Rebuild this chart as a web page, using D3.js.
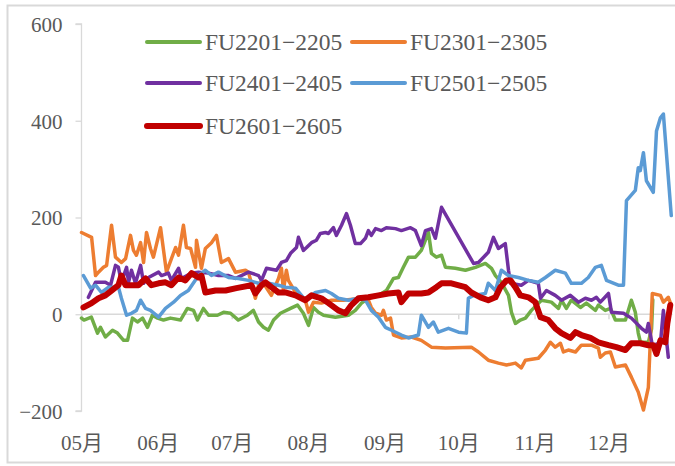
<!DOCTYPE html>
<html lang="zh">
<head>
<meta charset="UTF-8">
<title>FU spreads</title>
<script src="https://d3js.org/d3.v7.min.js"></script>
<style>
    body { margin: 0; background: #fff; }
    svg { display: block; }
    .axis text { font-family: "Liberation Serif", "Noto Sans CJK SC", serif; fill: #595959; }
</style>
</head>
<body>
<svg id="chart"></svg>
<script>
    // x = days since 05-01, y = spread
    const monthStarts = [0, 31, 61, 92, 123, 153, 184, 214];
    const monthLabels = ["05月", "06月", "07月", "08月", "09月", "10月", "11月", "12月"];
    const yTicks = [-200, 0, 200, 400, 600];

    const seriesNames = ["FU2201−2205", "FU2301−2305", "FU2401−2405", "FU2501−2505", "FU2601−2605"];
    const seriesColors = ["#70ad47", "#ed7d31", "#7030a0", "#5b9bd5", "#c00000"];

    const fu2201 = [[0,-8],[1,-12],[4,-6],[6.5,-39],[7.7,-27],[9.7,-47],[12.6,-33],[14.6,-39],[17.1,-54],[18.7,-54],
        [20.7,-8],[22.7,-16],[24.8,-8],[26.8,-27],[28.8,-2],[30.9,-8],[33.3,-12],[36.1,-8],[40.2,-12],[43,12],
        [45.5,8],[47.1,-12],[49.5,12],[51.6,-2],[55.2,-2],[57.7,4],[60.5,2],[63.7,-12],[67.4,-2],[69.8,8],
        [71.9,-16],[73.9,-27],[75.9,-33],[78,-12],[80.8,2],[84.9,12],[87.7,19],[90.1,2],[92.2,-23],[94.2,14],
        [96.2,4],[98.3,-2],[103.1,-6],[108.4,-2],[111.2,8],[113.7,23],[116.5,33],[120.6,39],[123.8,49],[126.7,74],
        [128.7,76],[130.7,97],[132.8,118],[135.6,118],[138,132],[140.9,169],[142.1,126],[144.1,118],[146.2,122],[147.8,97],
        [151.8,95],[155.9,91],[160,97],[164,105],[166.5,95],[168.1,80],[170.5,66],[173.4,39],[174.6,4],[176.2,-19],
        [178.2,-12],[180.3,-8],[182.7,8],[186.8,29],[190.8,25],[193.7,12],[194.9,29],[196.9,12],[198.9,29],[202.6,14],
        [205,23],[208.7,8],[209.9,19],[212.7,8],[214.8,12],[216.8,-12],[220.9,-12],[223.3,29],[224.9,4],[226.1,-39],
        [227,-58],[230.2,-58],[231.5,-30],[232,30]];

    const fu2301 = [[0,169],[4.1,159],[5.7,80],[6.9,87],[8.9,97],[10.2,101],[12.2,184],[13.8,118],[16.2,107],[17.9,115],
        [19.9,163],[21.1,132],[22.3,122],[24,148],[25.2,107],[26.4,169],[28,136],[29.2,118],[32.1,179],[34.5,87],
        [38.2,138],[39.4,122],[41.4,184],[42.6,138],[44.3,136],[46.3,97],[46.7,153],[48.7,95],[50.3,136],[52.8,148],
        [54.8,163],[56.8,107],[59.7,115],[62.5,87],[66.6,91],[67.8,87],[70.6,33],[71.9,60],[73.1,70],[77.1,39],
        [80,74],[81.2,95],[82,49],[83.2,91],[84,70],[86.9,45],[90.9,29],[92.2,4],[94.2,25],[97.4,23],
        [101.5,29],[106.4,29],[113.7,33],[116.5,29],[117.7,14],[119.4,2],[121.8,-2],[122.6,8],[123.8,-12],[125.5,-8],
        [126.7,-43],[129.9,-49],[134,-47],[138,-54],[142.1,-68],[147.8,-70],[158.3,-68],[161.2,-78],[165.2,-95],[169.3,-101],
        [172.6,-105],[176.2,-101],[178.6,-111],[180.3,-95],[185.5,-91],[188.4,-74],[190.4,-58],[192.4,-68],[194.5,-60],[195.7,-78],
        [197.7,-74],[200.6,-78],[203,-64],[207.1,-64],[209.9,-70],[210.7,-89],[212.7,-80],[214.8,-78],[216.8,-109],[220.9,-105],
        [223.3,-130],[226.1,-161],[228.2,-198],[230.2,-151],[231.8,43],[235.1,39],[236.3,25],[238.3,35],[239.5,19]];

    const fu2401 = [[2.8,35],[5.7,66],[9.7,66],[11.8,60],[13.8,101],[15,97],[16.2,66],[18.3,97],[19.1,66],[20.3,91],
        [21.9,64],[24,101],[25.2,64],[27.2,76],[31.3,87],[32.5,80],[35.3,85],[36.5,70],[39.4,95],[40.6,74],
        [44.7,85],[47.5,87],[51.6,85],[55.6,80],[59.7,80],[62.5,74],[67.8,87],[71.9,80],[73.1,70],[75.1,95],
        [79.2,91],[81.2,107],[83.2,111],[84.9,126],[87.3,138],[88.1,159],[90.1,132],[91.4,138],[93.4,148],[95.4,153],
        [97,167],[99.1,169],[100.3,167],[102.3,179],[103.5,163],[105.6,184],[107.6,208],[109.2,184],[111.2,146],[113.3,146],
        [115.3,157],[116.5,173],[117.7,163],[119.4,177],[121.8,173],[123.8,179],[127.5,177],[129.9,173],[133.6,179],[135.6,173],
        [138,142],[139.7,173],[142.1,177],[143.7,157],[146.2,221],[159.2,105],[161.2,107],[165.2,128],[167.3,159],[169.3,136],
        [172.1,146],[173.4,91],[174.2,64],[178.6,60],[181.5,70],[185.5,64],[186.4,33],[188.8,49],[192.4,39],[194.9,29],
        [198.5,39],[201.8,25],[204.6,33],[207.1,29],[209.1,35],[210.7,25],[214,43],[215.2,4],[220.1,2],[223.3,-8],
        [227.4,-29],[229.4,-37],[230.2,-19],[231.8,-64],[235.1,-60],[236.3,8],[238.3,-89]];

    const fu2501 = [[0.8,80],[3.7,54],[5.7,60],[8.1,45],[11,56],[15,56],[16.2,33],[18.3,-2],[20.3,2],[22.3,8],
        [24,29],[26,12],[28,8],[31.3,-6],[34.1,12],[37.4,25],[40.2,39],[43.4,49],[47.5,80],[50.3,91],
        [52.8,80],[55.6,87],[59.7,76],[63.7,74],[67.8,70],[71.9,64],[75.9,64],[80,60],[82.8,56],[86.9,54],
        [90.9,29],[95,45],[99.1,49],[101.5,43],[104.3,33],[108.4,29],[112.5,33],[115.3,29],[117.7,8],[120.6,-6],
        [123.4,-27],[125.9,-33],[129.9,-43],[132.8,-49],[136.8,-43],[138,-2],[140.9,-27],[142.9,-16],[144.9,-37],[149,-29],
        [153.1,-37],[156.3,-39],[157.1,33],[159.2,39],[164,43],[165.2,64],[168.1,49],[170.5,91],[173.4,80],[177.4,76],
        [181.5,70],[185.5,66],[188.4,76],[192.4,91],[196.5,85],[198.9,64],[203,64],[205.8,76],[208.7,97],[211.1,101],
        [213.2,70],[218,60],[220.1,60],[221.3,235],[224.9,256],[226.1,303],[226.9,297],[228.2,334],[229.4,276],[232.2,252],
        [233.5,379],[235.1,406],[236.3,414],[239.5,204]];

    const fu2601 = [[0.8,14],[4.1,23],[6.9,33],[9.7,39],[12.2,49],[15,60],[16.2,80],[17.9,60],[23.1,60],[26,74],
        [28.4,60],[31.3,64],[34.1,66],[36.5,60],[39.4,76],[42.2,70],[44.7,85],[47.5,76],[48.7,80],[50.3,45],
        [54.4,49],[58.5,49],[62.9,54],[69,60],[70.6,43],[73.1,60],[74.7,66],[77.1,56],[80,45],[82.8,45],
        [86.9,39],[90.9,29],[93.4,39],[97.4,33],[100.3,23],[104.3,8],[107.2,2],[109.6,19],[112.5,33],[116.5,35],
        [120.6,39],[124.6,43],[128.7,45],[129.9,25],[132.8,43],[138,43],[140.9,45],[144.1,56],[146.2,64],[150.2,64],
        [155.9,56],[158.3,45],[162,35],[165.2,29],[168.1,35],[170.1,56],[172.6,70],[174.2,70],[176.2,56],[178.2,39],
        [181.5,35],[184.3,25],[186.4,-6],[189.6,-12],[192.4,-29],[194.9,-39],[198.5,-49],[200.6,-37],[203,-43],[206.7,-49],
        [209.9,-58],[214,-64],[217.2,-68],[220.9,-74],[223.3,-60],[226.9,-60],[230.2,-64],[232.2,-64],[233.5,-82],[235.1,-54],
        [237.1,-58],[237.9,-19],[239.1,19]];

    const allSeries = [fu2201, fu2301, fu2401, fu2501, fu2601];
    const widths = [3.5, 3.5, 3.5, 3.5, 6];

    const width = 675, height = 466;
    const svg = d3.select("#chart").attr("width", width).attr("height", height);

    // outer frame
    svg.append("rect")
        .attr("x", 7.5).attr("y", 5.5)
        .attr("width", 700).attr("height", 457)
        .attr("fill", "none").attr("stroke", "#d9d9d9").attr("stroke-width", 2);

    const x = d3.scaleLinear().domain([0, 240]).range([81.5, 672.5]);
    const y = d3.scaleLinear().domain([-200, 600]).range([411, 24]);

    // y axis
    const yAxis = svg.append("g").attr("class", "axis")
        .attr("transform", `translate(${x(0)},0)`)
        .call(d3.axisLeft(y).tickValues(yTicks).tickSize(6).tickPadding(13));
    yAxis.selectAll("path, line").attr("stroke", "#d9d9d9").attr("stroke-width", 1.3);
    yAxis.selectAll("text").attr("font-size", 21).attr("dy", "0.35em");
    yAxis.select(".domain").attr("d", `M-6,${y(600)}H0V${y(-200)}H-6`);

    // zero line with month ticks
    const zeroAxis = svg.append("g").attr("class", "axis")
        .attr("transform", `translate(0,${y(0)})`)
        .call(d3.axisBottom(x).tickValues(monthStarts).tickSize(5).tickFormat(""));
    zeroAxis.selectAll("path, line").attr("stroke", "#d9d9d9").attr("stroke-width", 1.5);
    zeroAxis.select(".domain").attr("d", `M${x(0)},0H${x(240)}`);

    // month labels at the bottom
    const labelAxis = svg.append("g").attr("class", "axis")
        .attr("transform", `translate(0,${y(-200)})`)
        .call(d3.axisBottom(x).tickValues(monthStarts).tickSize(0).tickPadding(24)
            .tickFormat((d, i) => monthLabels[i]));
    labelAxis.select(".domain").remove();
    labelAxis.selectAll("text").attr("font-size", 21);

    const line = d3.line().x(d => x(d[0])).y(d => y(d[1]));

    svg.append("g").selectAll("path")
        .data(allSeries)
        .join("path")
        .attr("d", line)
        .attr("fill", "none")
        .attr("stroke", (d, i) => seriesColors[i])
        .attr("stroke-width", (d, i) => widths[i])
        .attr("stroke-linejoin", "round")
        .attr("stroke-linecap", "round");

    // legend
    const legendPos = [[147, 42], [352, 42], [147, 83], [352, 83], [147, 126]];
    const legend = svg.append("g").selectAll("g")
        .data(seriesNames)
        .join("g")
        .attr("transform", (d, i) => `translate(${legendPos[i][0]},${legendPos[i][1]})`);
    legend.append("line")
        .attr("x1", 0).attr("x2", 53)
        .attr("stroke", (d, i) => seriesColors[i])
        .attr("stroke-width", (d, i) => i === 4 ? 6 : 4)
        .attr("stroke-linecap", "round");
    legend.append("text")
        .attr("x", 58).attr("dy", "0.35em")
        .attr("font-family", "Liberation Serif, serif")
        .attr("font-size", 23.5)
        .attr("fill", "#595959")
        .text(d => d);
</script>
</body>
</html>
